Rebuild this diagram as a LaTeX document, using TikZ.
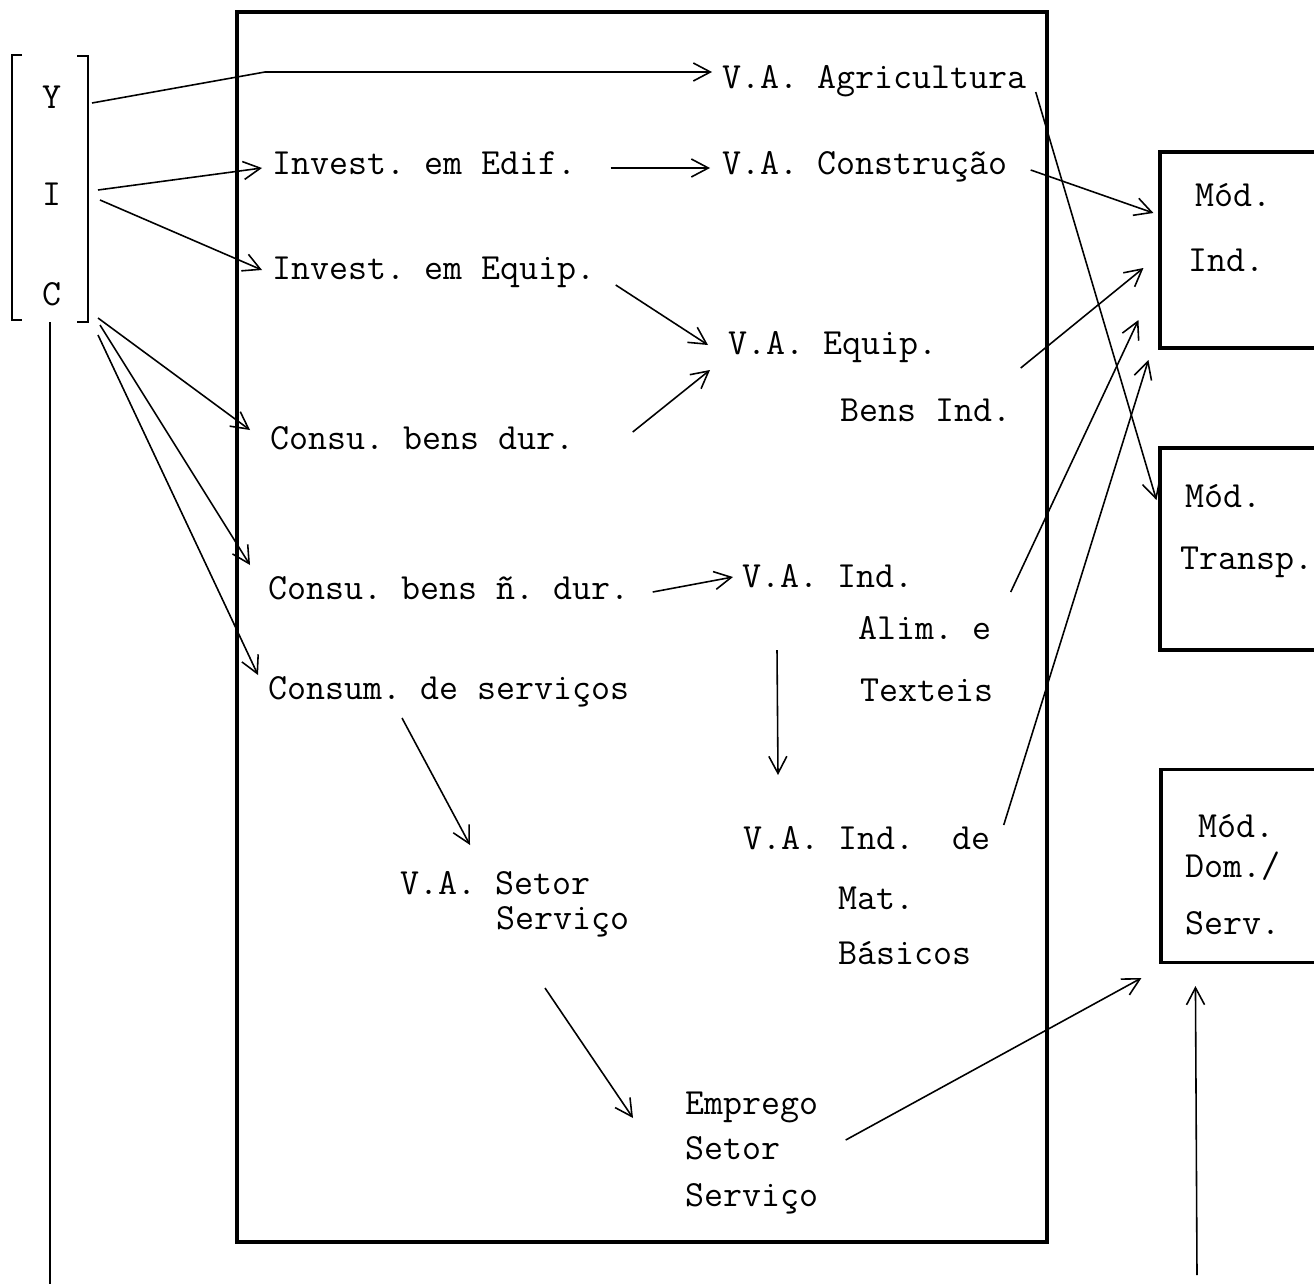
\documentclass[tikz,border=0pt]{standalone}
\usepackage{fontspec}
\usepackage{tikz}
\usetikzlibrary{arrows.meta, calc}
\frenchspacing

\begin{document}
\begin{tikzpicture}[x=0.02cm, y=-0.02cm, >={Straight Barb[length=3.4mm,width=3.6mm]},
    lbl/.style={inner sep=0pt, anchor=base west, font=\ttfamily\fontsize{21}{24}\selectfont},
    var/.style={inner sep=0pt, anchor=base, font=\ttfamily\fontsize{21}{24}\selectfont},
    modbox/.style={draw, line width=1.8pt, minimum width=4.8cm, inner sep=0pt},
    flow/.style={->, line width=0.9pt}]
  \useasboundingbox (0,0) rectangle (1314,1284);
  % central block
  \draw[line width=1.8pt] (237,12) rectangle (1047,1242);
  % vector Y, I, C in brackets
  \draw[line width=1.5pt] (22,55) -- (12,55) -- (12,320) -- (22,320);
  \draw[line width=1.5pt] (77,56) -- (88,56) -- (88,322) -- (77,322);
  \node[var] (y) at (52,109) {Y};
  \node[var] (i) at (52,206) {I};
  \node[var] (c) at (52,305) {C};
  \coordinate (cend) at (50,1284);
  % demand components
  \node[lbl] (edif)  at (272,174) {Invest. em Edif.};
  \node[lbl] (equip) at (272,279) {Invest. em Equip.};
  \node[lbl] (dur)   at (270,449) {Consu. bens dur.};
  \node[lbl] (ndur)  at (268,599) {Consu. bens ñ. dur.};
  \node[lbl] (serv)  at (268,699) {Consum. de serviços};
  % value added by sector
  \node[lbl] (agri)    at (722,89)  {V.A. Agricultura};
  \node[lbl] (cons)    at (722,174) {V.A. Construção};
  \node[lbl] (vaequip) at (728,354) {V.A. Equip.};
  \node[lbl] (bensind) at (840,421) {Bens Ind.};
  \node[lbl] (vaind)   at (742,587) {V.A. Ind.};
  \node[lbl] (alim)    at (858,639) {Alim. e};
  \node[lbl] (texteis) at (860,701) {Texteis};
  \node[lbl] (vamat)   at (743,849) {V.A. Ind.\ \ de};
  \node[lbl] (mat)     at (838,909) {Mat.};
  \node[lbl] (basicos) at (838,964) {Básicos};
  \node[lbl] (vaserv)  at (400,894) {V.A. Setor};
  \node[lbl] (vaserv2) at (496,929) {Serviço};
  \node[lbl] (emp)     at (685,1114) {Emprego};
  \node[lbl] (emp2)    at (685,1159) {Setor};
  \node[lbl] (emp3)    at (685,1206) {Serviço};
  % modules on the right
  \node[modbox, minimum height=3.92cm] (mind) at (1280,250) {};
  \node[modbox, minimum height=4.04cm] (mtra) at (1280,549) {};
  \node[modbox, minimum height=3.86cm] (mdom) at (1281,866) {};
  \node[lbl] (mind1) at (1195,207) {Mód.};
  \node[lbl] (mind2) at (1188,271) {Ind.};
  \node[lbl] (mtra1) at (1185,507) {Mód.};
  \node[lbl] (mtra2) at (1180,569) {Transp.};
  \node[lbl] (mdom1) at (1198,837) {Mód.};
  \node[lbl] (mdom2) at (1185,877) {Dom./};
  \node[lbl] (mdom3) at (1185,934) {Serv.};
  \coordinate (ext) at (1197,1275);
  % flows from the bracket
  \draw[flow] ($(y.base)+(40,-6)$) -- ($(y.base)+(213,-37)$) -- ($(agri.base west)+(-10,-17)$);
  \draw[flow] ($(i.base)+(46,-16)$) -- ($(edif.base west)+(-10,-6)$);
  \draw[flow] ($(i.base)+(48,-6)$) -- ($(equip.base west)+(-10,-9)$);
  \draw[flow] ($(c.base)+(46,13)$) -- ($(dur.base west)+(-20,-19)$);
  \draw[flow] ($(c.base)+(48,20)$) -- ($(ndur.base west)+(-18,-34)$);
  \draw[flow] ($(c.base)+(46,30)$) -- ($(serv.base west)+(-10,-24)$);
  \draw[line width=1.2pt] ($(c.base)+(-2,17)$) -- (cend);
  % flows inside the block
  \draw[flow] ($(edif.base east)+(34,-6)$) -- ($(cons.base west)+(-12,-6)$);
  \draw[flow] ($(equip.base east)+(20,6)$) -- ($(vaequip.base west)+(-20,-9)$);
  \draw[flow] ($(dur.base east)+(58,-17)$) -- ($(vaequip.base west)+(-18,16)$);
  \draw[flow] ($(ndur.base east)+(23,-7)$) -- ($(vaind.base west)+(-9,-10)$);
  \draw[flow] ($(vaind.base west)+(35,63)$) -- ($(vamat.base west)+(35,-74)$);
  \draw[flow] ($(serv.base west)+(134,19)$) -- ($(vaserv.base west)+(70,-49)$);
  \draw[flow] ($(vaserv2.base west)+(49,59)$) -- ($(emp.base west)+(-52,4)$);
  % flows to the modules
  \draw[flow] ($(agri.base east)+(9,3)$) -- ($(mtra.west)+(-2,-49)$);
  \draw[flow] ($(cons.base east)+(23,-4)$) -- ($(mind.west)+(-5,-37)$);
  \draw[flow] ($(bensind.base east)+(9,-53)$) -- ($(mind.west)+(-15,18)$);
  \draw[flow] ($(alim.base east)+(19,-47)$) -- ($(mind.west)+(-20,70)$);
  \draw[flow] ($(vamat.base east)+(13,-24)$) -- ($(mind.west)+(-10,110)$);
  \draw[flow] ($(emp.base east)+(27,26)$) -- ($(mdom.west)+(-18,112)$);
  \draw[flow] (ext) -- ($(mdom.south west)+(36,22)$);
\end{tikzpicture}
\end{document}
